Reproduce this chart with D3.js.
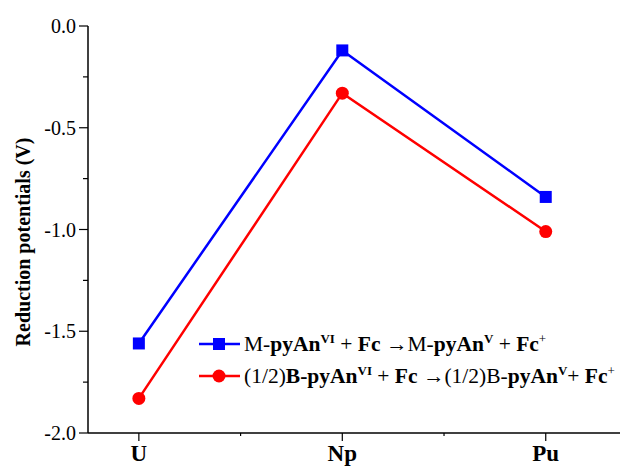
<!DOCTYPE html>
<html>
<head>
<meta charset="utf-8">
<script src="https://cdn.jsdelivr.net/npm/d3@7"></script>
<style>
  body { margin: 0; background: #fff; }
  text { font-family: "Liberation Serif", "Times New Roman", serif; }
</style>
</head>
<body>
<svg id="chart" width="625" height="468"></svg>
<script>
// data
const elements = ["U", "Np", "Pu"];
const mValues = [-1.56, -0.12, -0.84];
const bValues = [-1.83, -0.33, -1.01];
const yTicks = [0.0, -0.5, -1.0, -1.5, -2.0];

const svg = d3.select("#chart");

// plot area
const plotLeft = 88, plotRight = 620, plotTop = 26, plotBottom = 433;

const x = d3.scaleLinear().domain([0.75, 3.365]).range([plotLeft, plotRight]);
const y = d3.scaleLinear().domain([-2, 0]).range([plotBottom, plotTop]);

// x axis
const xAxis = svg.append("g").attr("transform", "translate(0," + plotBottom + ")");
xAxis.append("line").attr("x1", plotLeft).attr("x2", plotRight).attr("stroke", "#000").attr("stroke-width", 1.5);
elements.forEach(function (e, i) {
    xAxis.append("line").attr("x1", x(i + 1)).attr("x2", x(i + 1))
        .attr("y1", 0).attr("y2", 8).attr("stroke", "#000").attr("stroke-width", 1.2);
    xAxis.append("text").attr("x", x(i + 1)).attr("y", 28)
        .attr("text-anchor", "middle").attr("font-size", 23).attr("font-weight", "bold")
        .text(e);
});
[1.5, 2.5].forEach(function (v) {
    xAxis.append("line").attr("x1", x(v)).attr("x2", x(v))
        .attr("y1", 0).attr("y2", 3).attr("stroke", "#000").attr("stroke-width", 1.2);
});

// y axis
const yAxis = svg.append("g");
yAxis.append("line").attr("x1", plotLeft).attr("x2", plotLeft).attr("y1", plotTop).attr("y2", plotBottom)
    .attr("stroke", "#000").attr("stroke-width", 1.5);
yTicks.forEach(function (t) {
    yAxis.append("line").attr("x1", plotLeft - 9).attr("x2", plotLeft)
        .attr("y1", y(t)).attr("y2", y(t)).attr("stroke", "#000").attr("stroke-width", 1.2);
    yAxis.append("text").attr("x", plotLeft - 12).attr("y", y(t) + 7)
        .attr("text-anchor", "end").attr("font-size", 20)
        .text(t.toFixed(1));
});
[-0.25, -0.75, -1.25, -1.75].forEach(function (t) {
    yAxis.append("line").attr("x1", plotLeft - 5).attr("x2", plotLeft)
        .attr("y1", y(t)).attr("y2", y(t)).attr("stroke", "#000").attr("stroke-width", 1.2);
});

svg.append("text")
    .attr("transform", "translate(30," + 242 + ") rotate(-90)")
    .attr("text-anchor", "middle").attr("font-size", 20).attr("font-weight", "bold")
    .text("Reduction potentials (V)");

// series
const line = d3.line().x(function (d, i) { return x(i + 1); }).y(function (d) { return y(d); });

svg.append("path").datum(mValues).attr("d", line)
    .attr("fill", "none").attr("stroke", "#0000ff").attr("stroke-width", 2.5);
svg.append("path").datum(bValues).attr("d", line)
    .attr("fill", "none").attr("stroke", "#ff0000").attr("stroke-width", 2.5);

svg.selectAll(".sq").data(mValues).enter().append("rect")
    .attr("x", function (d, i) { return x(i + 1) - 6; })
    .attr("y", function (d) { return y(d) - 6; })
    .attr("width", 12).attr("height", 12).attr("fill", "#0000ff");

svg.selectAll(".ci").data(bValues).enter().append("circle")
    .attr("cx", function (d, i) { return x(i + 1); })
    .attr("cy", function (d) { return y(d); })
    .attr("r", 6.5).attr("fill", "#ff0000");

// legend
const legend = svg.append("g");
function legendRow(yy, color, shape, parts) {
    legend.append("line").attr("x1", 199).attr("x2", 240).attr("y1", yy).attr("y2", yy)
        .attr("stroke", color).attr("stroke-width", 2.5);
    if (shape === "square") {
        legend.append("rect").attr("x", 213).attr("y", yy - 6).attr("width", 12).attr("height", 12).attr("fill", color);
    } else {
        legend.append("circle").attr("cx", 219).attr("cy", yy).attr("r", 6.5).attr("fill", color);
    }
    const t = legend.append("text").attr("x", 244).attr("y", yy + 7).attr("font-size", 21.5);
    parts.forEach(function (p) {
        const s = t.append("tspan").text(p[0]);
        if (p[1]) s.attr("font-weight", "bold");
        if (p[2]) s.attr("font-size", 13).attr("dy", -8);
        if (p[3]) s.attr("dy", 8);
    });
}
legendRow(344, "#0000ff", "square", [
    ["M-", 0], ["pyAn", 1], ["VI", 1, 1], [" + ", 0, 0, 1], ["Fc", 1], [" \u2192", 0], ["M-", 0], ["pyAn", 1],
    ["V", 1, 1], [" + ", 0, 0, 1], ["Fc", 1], ["+", 0, 1]
]);
legendRow(376, "#ff0000", "circle", [
    ["(1/2)", 0], ["B-pyAn", 1], ["VI", 1, 1], [" + ", 0, 0, 1], ["Fc", 1], [" \u2192(1/2)B-", 0], ["pyAn", 1],
    ["V", 1, 1], ["+ ", 0, 0, 1], ["Fc", 1], ["+", 0, 1]
]);
</script>
</body>
</html>
